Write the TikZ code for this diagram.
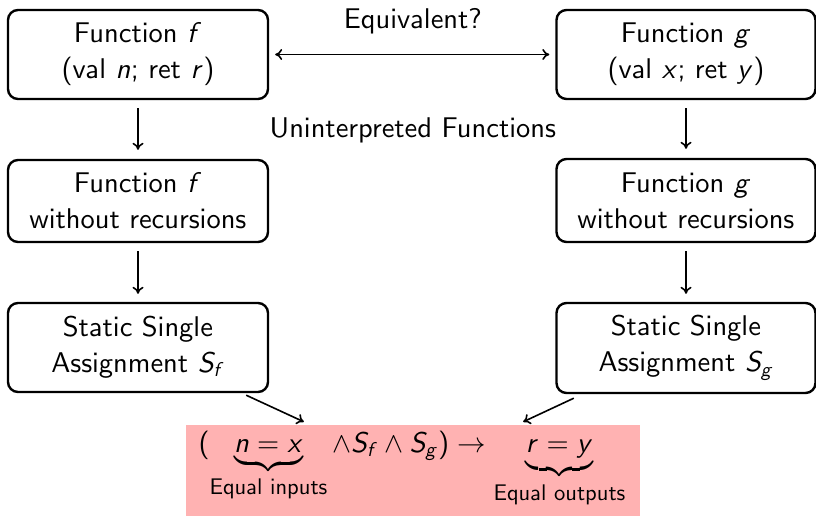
\documentclass[tikz,border=0pt]{standalone}
\usetikzlibrary{arrows.meta}
\DeclareFontFamily{OT1}{mysf}{}
\DeclareFontShape{OT1}{mysf}{m}{n}{<-> cmss10}{}
\DeclareFontShape{OT1}{mysf}{m}{sl}{<-> cmssi10}{}
\DeclareFontShape{OT1}{mysf}{m}{it}{<-> cmssi10}{}
\DeclareFontFamily{OMS}{mysy}{\skewchar\font48}
\DeclareFontShape{OMS}{mysy}{m}{n}{<-> cmsy10}{}
\DeclareFontFamily{OMX}{myex}{}
\DeclareFontShape{OMX}{myex}{m}{n}{<-> cmex10}{}
\DeclareSymbolFont{letters}{OT1}{mysf}{m}{sl}
\DeclareSymbolFont{operators}{OT1}{mysf}{m}{n}
\DeclareSymbolFont{symbols}{OMS}{mysy}{m}{n}
\DeclareSymbolFont{largesymbols}{OMX}{myex}{m}{n}
\newcommand{\bigsf}{\fontencoding{OT1}\fontfamily{mysf}\fontseries{m}\fontshape{n}\fontsize{28.5}{36}\selectfont}
\newcommand{\smallsf}{\fontencoding{OT1}\fontfamily{mysf}\fontseries{m}\fontshape{n}\fontsize{22.6}{26}\selectfont}
\newcommand{\myub}[2]{\mathop{\vtop{\mathsurround=0pt\ialign{##\crcr$\hfil\displaystyle{#1}\hfil$\crcr\noalign{\kern10pt\nointerlineskip}\upbracefill\crcr\noalign{\kern9pt}}}}\limits_{#2}}
\tikzset{
  stepbox/.style={draw, line width=2.4pt, rounded corners=10pt, align=center,
    minimum width=260pt, inner sep=0pt, font=\bigsf},
  lbl/.style={anchor=base, inner sep=0pt, font=\bigsf},
  conn/.style={line width=1.6pt, -{To[length=7pt,width=11pt]}},
  dconn/.style={line width=1.6pt, {To[length=7pt,width=11pt]}-{To[length=7pt,width=11pt]}},
}
\begin{document}
\begin{tikzpicture}[x=1pt, y=-1pt]
\useasboundingbox (0,0) rectangle (816,516);
% left column
\node[stepbox, minimum height=89pt] (b1) at (138,54.5) {Function $f$\\(val $n$; ret $r$)};
\node[stepbox, minimum height=82pt] (b2) at (138,201) {Function $f$\\without recursions};
\node[stepbox, minimum height=89pt] (b3) at (138,347.5) {Static Single\\Assignment $S_f$};
% right column
\node[stepbox, minimum height=89pt, minimum width=259pt] (r1) at (686,54.5) {Function $g$\\(val $x$; ret $y$)};
\node[stepbox, minimum height=83pt, minimum width=259pt] (r2) at (686,200.5) {Function $g$\\without recursions};
\node[stepbox, minimum height=90pt, minimum width=259pt] (r3) at (686,348) {Static Single\\Assignment $S_g$};
% labels
\node[lbl] (eq) at (413,29) {Equivalent?};
\node[lbl] (uf) at (413,137) {Uninterpreted Functions};
% formula
\node[fill=red!30, minimum width=454pt, minimum height=91pt, inner sep=0pt] (bg) at (413,470.5) {};
\node[inner sep=0pt, anchor=base, font=\bigsf] (fm) at (412,452)
  {$(\myub{n=x}{\mbox{\smallsf Equal inputs}}\wedge S_f\wedge S_g)\rightarrow\myub{r=y}{\mbox{\smallsf Equal outputs}}$};
% connectors
\draw[dconn, shorten <=6pt, shorten >=6pt] (b1) -- (r1);
\draw[conn, shorten <=8pt, shorten >=9pt] (b1) -- (b2);
\draw[conn, shorten <=8pt, shorten >=8pt] (b2) -- (b3);
\draw[conn, shorten <=8pt, shorten >=9pt] (r1) -- (r2);
\draw[conn, shorten <=8pt, shorten >=8pt] (r2) -- (r3);
\draw[conn] ([xshift=-23pt,yshift=-2pt]b3.south east) -- ([xshift=118pt,yshift=3pt]bg.north west);
\draw[conn] ([xshift=18.5pt,yshift=-4pt]r3.south west) -- ([xshift=-117pt,yshift=3pt]bg.north east);
\end{tikzpicture}
\end{document}
